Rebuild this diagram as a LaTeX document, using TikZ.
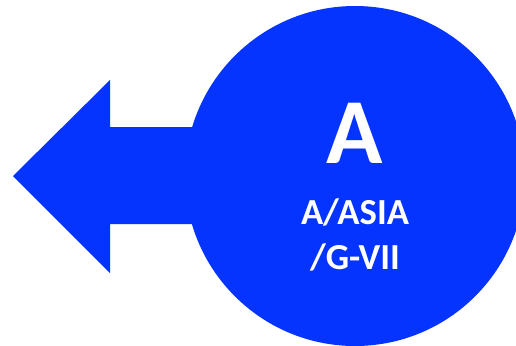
\documentclass[tikz,border=0pt]{standalone}
\usepackage{fontspec}
\setmainfont{Carlito}
\definecolor{signblue}{RGB}{5,51,255}
\begin{document}
\begin{tikzpicture}[x=1pt,y=-1pt,
  blueshape/.style={fill=signblue,draw=none},
  bigletter/.style={text=white,font=\fontsize{93}{93}\selectfont\bfseries,anchor=base,inner sep=0pt},
  smallline/.style={text=white,font=\fontsize{36.7}{44}\selectfont\bfseries,anchor=base,inner sep=0pt}]
  \useasboundingbox (0,0) rectangle (516,345);
  \clip (0,0) rectangle (516,345);
  % disc
  \node[blueshape,circle,minimum size=340pt,inner sep=0pt] (disc) at (355,176) {};
  % left-pointing arrow joined to the disc
  \fill[signblue] (13,176) -- (110,80) -- (110,127) -- (230,127)
    -- (230,224) -- (110,224) -- (110,273) -- cycle;
  % labels
  \node[bigletter] (letter) at (355,163) {A};
  \node[smallline] (line1) at (355,224) {A/ASIA};
  \node[smallline] (line2) at (355,269) {/G-VII};
\end{tikzpicture}
\end{document}
